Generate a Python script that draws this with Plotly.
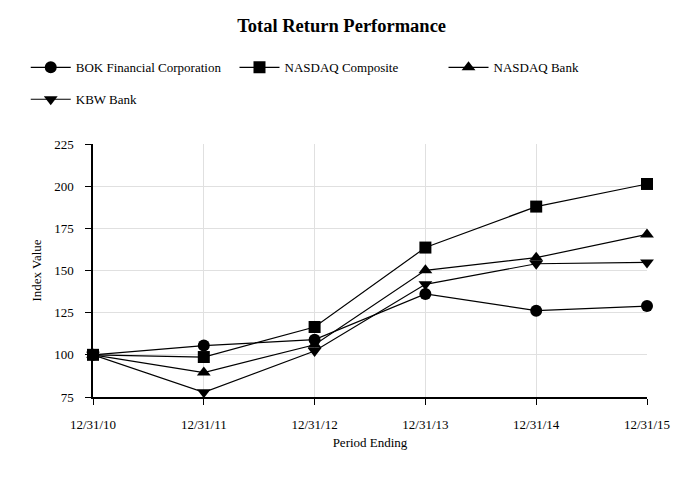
import plotly.graph_objects as go

periods = ["12/31/10", "12/31/11", "12/31/12", "12/31/13", "12/31/14", "12/31/15"]
bok = [100.0, 105.5, 109.0, 136.1, 126.2, 128.9]
nasdaq_comp = [100.0, 98.7, 116.5, 163.6, 187.9, 201.3]
nasdaq_bank = [100.0, 89.5, 106.0, 150.1, 157.6, 171.4]
kbw_bank = [100.0, 77.8, 102.3, 141.8, 154.0, 154.8]
y_ticks = [75, 100, 125, 150, 175, 200, 225]

series = [
    ("BOK Financial Corporation", bok, "circle", "legend"),
    ("NASDAQ Composite", nasdaq_comp, "square", "legend2"),
    ("NASDAQ Bank", nasdaq_bank, "triangle-up", "legend3"),
    ("KBW Bank", kbw_bank, "triangle-down", "legend4"),
]

FONT = "Liberation Serif, Times New Roman, serif"
W, H = 674, 472
L, R, T, B = 85, 33, 136, 83

fig = go.Figure()
for name, vals, sym, lg in series:
    fig.add_trace(go.Scatter(
        x=periods, y=vals, name=name, mode="lines+markers",
        line=dict(color="black", width=1.2),
        marker=dict(symbol=sym, size=12, color="black"),
        cliponaxis=False, legend=lg,
    ))

def leg(x, y):
    return dict(x=x, y=y, xanchor="left", yanchor="top", orientation="h",
                itemwidth=40, bgcolor="rgba(0,0,0,0)",
                font=dict(size=13, family=FONT, color="black"))

fig.update_layout(
    width=W, height=H,
    paper_bgcolor="white", plot_bgcolor="white",
    margin=dict(l=L, r=R, t=T, b=B),
    font=dict(family=FONT, size=13, color="black"),
    title=dict(text="<b>Total Return Performance</b>", x=0.495, xanchor="center",
               y=0.962, yanchor="middle", font=dict(size=18.5, family=FONT)),
    legend=leg(-0.1214, 1.362),
    legend2=leg(0.2554, 1.362),
    legend3=leg(0.6327, 1.362),
    legend4=leg(-0.1214, 1.236),
    showlegend=True,
)
fig.update_xaxes(
    type="category", range=[0, 5],
    showline=True, linecolor="black", linewidth=1.5,
    showgrid=True, gridcolor="#e0e0e0", gridwidth=1,
    ticks="outside", ticklen=6, tickcolor="black",
    ticklabelstandoff=9,
    title=dict(text="Period Ending", font=dict(size=13), standoff=7),
    tickfont=dict(size=13),
)
fig.update_yaxes(
    range=[75, 225], tickvals=y_ticks,
    showline=True, linecolor="black", linewidth=1.5,
    showgrid=True, gridcolor="#e0e0e0", gridwidth=1,
    ticks="outside", ticklen=6, tickcolor="black",
    ticklabelstandoff=9,
    title=dict(text="Index Value", font=dict(size=13), standoff=10),
    tickfont=dict(size=13), zeroline=False,
)

fig.write_html("out.html")
